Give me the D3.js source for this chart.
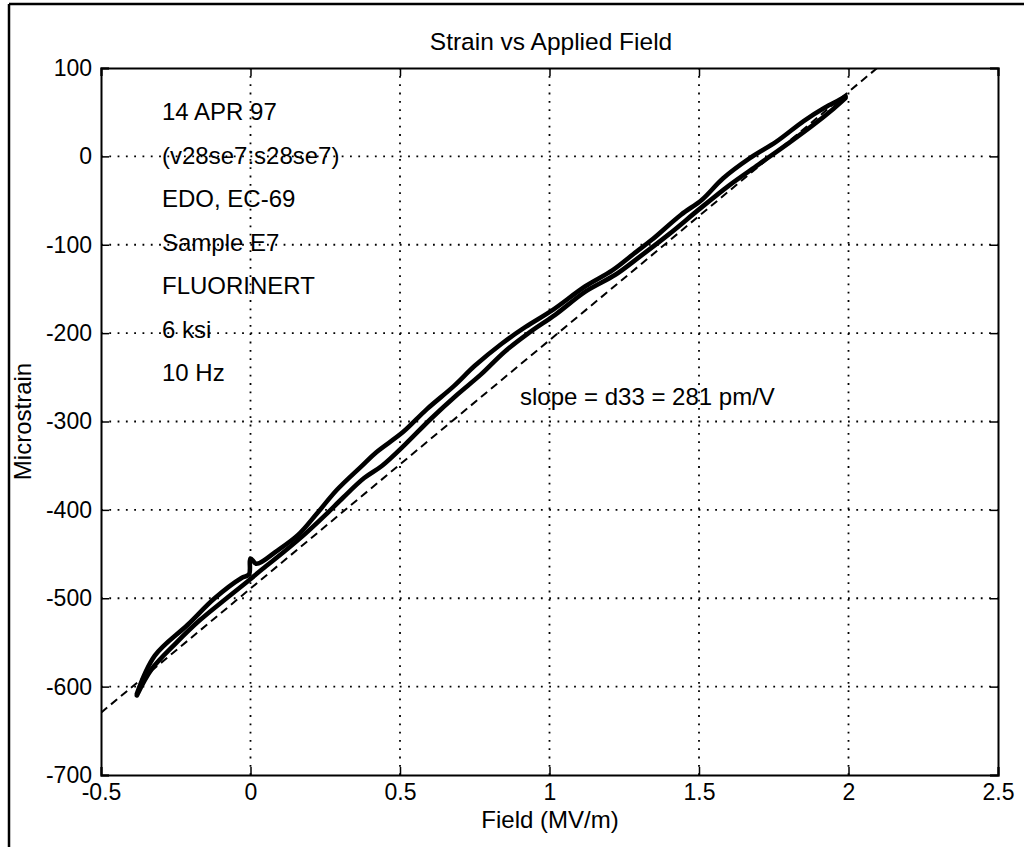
<!DOCTYPE html>
<html>
<head>
<meta charset="utf-8">
<script src="https://cdn.jsdelivr.net/npm/d3@7"></script>
<style>
  html, body { margin: 0; padding: 0; background: #fff; }
  svg { display: block; }
  text { font-family: "Liberation Sans", Arial, Helvetica, sans-serif; fill: #000; }
</style>
</head>
<body>
<script>
// ---------- data ----------
const titleText = "Strain vs Applied Field";
const xLabelText = "Field (MV/m)";
const yLabelText = "Microstrain";
const notes = ["14 APR 97", "(v28se7:s28se7)", "EDO, EC-69", "Sample E7", "FLUORINERT", "6 ksi", "10 Hz"];
const slopeText = "slope = d33 = 281 pm/V";

const xTicks = [-0.5, 0, 0.5, 1, 1.5, 2, 2.5];
const xTickLabels = ["-0.5", "0", "0.5", "1", "1.5", "2", "2.5"];
const yTicks = [100, 0, -100, -200, -300, -400, -500, -600, -700];
const yTickLabels = ["100", "0", "-100", "-200", "-300", "-400", "-500", "-600", "-700"];
const xGrid = [0, 0.5, 1, 1.5, 2];
const yGrid = [0, -100, -200, -300, -400, -500, -600];

// measured loop: upper branch
const fieldUpper  = [-0.38, -0.32, -0.21, -0.12, -0.03, -0.005, 0.0, 0.02, 0.09, 0.16, 0.22, 0.29, 0.37, 0.42, 0.51, 0.59, 0.68, 0.75, 0.84, 0.92, 1.01, 1.12, 1.21, 1.29, 1.34, 1.44, 1.51, 1.58, 1.67, 1.76, 1.85, 1.92, 1.97, 1.99];
const strainUpper = [-608, -565, -530, -500, -477, -473, -455, -461, -446, -428, -405, -377, -351, -335, -312, -286, -260, -237, -212, -193, -174, -147, -129, -108, -95, -66, -49, -25, -2, 17, 40, 55, 64, 68];
// measured loop: lower branch
const fieldLower  = [-0.38, -0.33, -0.25, -0.17, -0.08, -0.01, 0.04, 0.11, 0.18, 0.25, 0.31, 0.38, 0.44, 0.52, 0.60, 0.69, 0.77, 0.85, 0.93, 1.02, 1.12, 1.22, 1.30, 1.40, 1.50, 1.60, 1.70, 1.80, 1.88, 1.95, 1.99];
const strainLower = [-610, -580, -551, -525, -500, -481, -467, -448, -428, -406, -386, -364, -350, -325, -298, -270, -247, -221, -200, -179, -153, -134, -114, -88, -60, -33, -9, 15, 35, 54, 66];

// reference slope line (d33 = 281 pm/V)
const fitField = [-0.5, 2.096];
const fitStrain = [-629.5, 100];

// ---------- layout ----------
const W = 1024, H = 847;
const L = 101, R = 998, T = 68, B = 775;

const svg = d3.select("body").append("svg").attr("width", W).attr("height", H);
svg.append("rect").attr("width", W).attr("height", H).attr("fill", "#fff");

// outer frame (left & top edges visible in the scan)
svg.append("line").attr("x1", 9).attr("y1", 4).attr("x2", 9).attr("y2", H).attr("stroke", "#000").attr("stroke-width", 2.5);
svg.append("line").attr("x1", 9).attr("y1", 4).attr("x2", W).attr("y2", 4).attr("stroke", "#000").attr("stroke-width", 2.5);

const x = d3.scaleLinear().domain([-0.5, 2.5]).range([L, R]);
const y = d3.scaleLinear().domain([-700, 100]).range([B, T]);

// clip
svg.append("clipPath").attr("id", "plotclip").append("rect")
  .attr("x", L).attr("y", T).attr("width", R - L).attr("height", B - T);

// grid
const grid = svg.append("g").attr("stroke", "#000").attr("stroke-width", 1.8).attr("stroke-dasharray", "1.8,6.5");
grid.selectAll("line.vx").data(xGrid).join("line")
  .attr("x1", d => x(d)).attr("x2", d => x(d)).attr("y1", B).attr("y2", T);
grid.selectAll("line.hy").data(yGrid).join("line")
  .attr("x1", L).attr("x2", R).attr("y1", d => y(d)).attr("y2", d => y(d));

// axes
const tickFont = "23px";
const axB = svg.append("g").attr("transform", `translate(0,${B})`)
  .call(d3.axisBottom(x).tickValues(xTicks).tickFormat((d, i) => xTickLabels[i]).tickSize(-8).tickPadding(9));
const axL = svg.append("g").attr("transform", `translate(${L},0)`)
  .call(d3.axisLeft(y).tickValues(yTicks).tickFormat((d, i) => yTickLabels[i]).tickSize(-8).tickPadding(9));
const axT = svg.append("g").attr("transform", `translate(0,${T})`)
  .call(d3.axisTop(x).tickValues(xTicks).tickFormat("").tickSize(-8));
const axR = svg.append("g").attr("transform", `translate(${R},0)`)
  .call(d3.axisRight(y).tickValues(yTicks).tickFormat("").tickSize(-8));
[axB, axL, axT, axR].forEach(g => {
  g.selectAll(".domain").attr("stroke", "#000").attr("stroke-width", 2);
  g.selectAll(".tick line").attr("stroke", "#000").attr("stroke-width", 1.5);
  g.selectAll("text").attr("font-size", tickFont).attr("fill", "#000")
    .attr("font-family", "'Liberation Sans', Arial, sans-serif");
});

// fit line
const plot = svg.append("g").attr("clip-path", "url(#plotclip)");
const fitPts = fitField.map((f, i) => [f, fitStrain[i]]);
plot.append("path").datum(fitPts)
  .attr("d", d3.line().x(d => x(d[0])).y(d => y(d[1])))
  .attr("fill", "none").attr("stroke", "#000").attr("stroke-width", 2)
  .attr("stroke-dasharray", "8,5");

// measured loop
const line = d3.line().x(d => x(d[0])).y(d => y(d[1])).curve(d3.curveCatmullRom.alpha(0.5));
const upper = fieldUpper.map((f, i) => [f, strainUpper[i]]);
const lower = fieldLower.map((f, i) => [f, strainLower[i]]);
[lower, upper].forEach(pts => {
  plot.append("path").datum(pts).attr("d", line)
    .attr("fill", "none").attr("stroke", "#000").attr("stroke-width", 4.6)
    .attr("stroke-linejoin", "round").attr("stroke-linecap", "round");
});

// title & labels
svg.append("text").attr("x", 551).attr("y", 50).attr("text-anchor", "middle")
  .attr("font-size", "24.5px").text(titleText);
svg.append("text").attr("x", 550).attr("y", 828).attr("text-anchor", "middle")
  .attr("font-size", "24px").text(xLabelText);
svg.append("text").attr("transform", `translate(31,${(T + B) / 2}) rotate(-90)`)
  .attr("text-anchor", "middle").attr("font-size", "24px").text(yLabelText);

// annotations
svg.selectAll("text.note").data(notes).join("text")
  .attr("class", "note")
  .attr("x", 162).attr("y", (d, i) => 120 + i * 43.5)
  .attr("font-size", "24px").text(d => d);
svg.append("text").attr("x", 520).attr("y", 405).attr("font-size", "24px").text(slopeText);
</script>
</body>
</html>
